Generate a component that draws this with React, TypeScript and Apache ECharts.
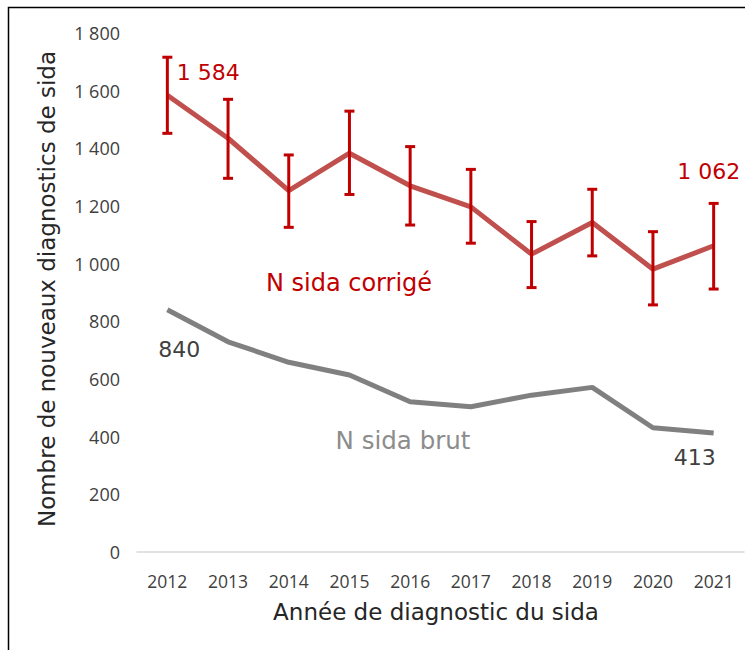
import { useEffect, useRef } from 'react';
import * as echarts from 'echarts';

const years = ['2012', '2013', '2014', '2015', '2016', '2017', '2018', '2019', '2020', '2021'];
const corrige = [1584, 1435, 1253, 1383, 1270, 1197, 1033, 1143, 981, 1062];
const corrigeLow = [1452, 1296, 1126, 1240, 1134, 1071, 917, 1027, 857, 912];
const corrigeHigh = [1716, 1570, 1377, 1529, 1406, 1327, 1146, 1258, 1111, 1209];
const brut = [840, 729, 658, 614, 521, 504, 544, 571, 431, 413];

const fmt = (v: number) => String(v).replace(/\B(?=(\d{3})+(?!\d))/g, ' ');

export default function App() {
  const ref = useRef<HTMLDivElement>(null);
  useEffect(() => {
    const chart = echarts.init(ref.current!, null, { renderer: 'svg' });
    const redLabel = { color: '#C00000', fontFamily: 'DejaVu Sans', fontSize: 22 };
    const grayLabel = { color: '#404040', fontFamily: 'DejaVu Sans', fontSize: 22 };
    const corrigeData = corrige.map((v, i) => {
      if (i === 0) return { value: v, label: { show: true, position: 'top', offset: [41, -7], formatter: (p: any) => fmt(p.value), ...redLabel } };
      if (i === corrige.length - 1) return { value: v, label: { show: true, position: 'top', offset: [-5, -58], formatter: (p: any) => fmt(p.value), ...redLabel } };
      return v;
    });
    const brutData = brut.map((v, i) => {
      if (i === 0) return { value: v, label: { show: true, position: 'bottom', offset: [12, 24], formatter: (p: any) => fmt(p.value), ...grayLabel } };
      if (i === brut.length - 1) return { value: v, label: { show: true, position: 'bottom', offset: [-19, 9], formatter: (p: any) => fmt(p.value), ...grayLabel } };
      return v;
    });
    chart.setOption({
      animation: false,
      backgroundColor: '#fff',
      grid: { left: 137, right: 1, top: 33, bottom: 98, containLabel: false },
      xAxis: {
        type: 'category',
        data: years,
        boundaryGap: true,
        axisLine: { show: true, lineStyle: { color: '#D9D9D9', width: 1.5 } },
        axisTick: { show: false },
        axisLabel: { color: '#404040', fontFamily: 'Open Sans', fontSize: 17.5, margin: 20 },
        splitLine: { show: false },
      },
      yAxis: {
        type: 'value',
        min: 0,
        max: 1800,
        interval: 200,
        axisLine: { show: false },
        axisTick: { show: false },
        splitLine: { show: false },
        axisLabel: { color: '#404040', fontFamily: 'Open Sans', fontSize: 18, margin: 17, formatter: (v: number) => fmt(v) },
      },
      series: [
        {
          type: 'line',
          data: brutData,
          symbol: 'circle',
          symbolSize: 0.1,
          showSymbol: true,
          lineStyle: { color: '#808080', width: 5 },
          itemStyle: { color: '#808080' },
          z: 2,
        },
        {
          type: 'line',
          data: corrigeData,
          symbol: 'circle',
          symbolSize: 0.1,
          showSymbol: true,
          lineStyle: { color: '#C0504D', width: 5 },
          itemStyle: { color: '#C0504D' },
          z: 3,
        },
        {
          type: 'custom',
          data: years.map((_, i) => [i, corrigeLow[i], corrigeHigh[i]]),
          encode: { x: 0, y: [1, 2] },
          z: 4,
          renderItem: (params: any, api: any) => {
            const lo = api.coord([api.value(0), api.value(1)]);
            const hi = api.coord([api.value(0), api.value(2)]);
            const w = 5;
            const style = { stroke: '#C00000', lineWidth: 3, fill: 'none' };
            return {
              type: 'group',
              children: [
                { type: 'line', shape: { x1: hi[0], y1: hi[1], x2: lo[0], y2: lo[1] }, style },
                { type: 'line', shape: { x1: hi[0] - w, y1: hi[1], x2: hi[0] + w, y2: hi[1] }, style },
                { type: 'line', shape: { x1: lo[0] - w, y1: lo[1], x2: lo[0] + w, y2: lo[1] }, style },
              ],
            };
          },
        },
      ],
      graphic: [
        {
          type: 'rect',
          shape: { x: 8.5, y: 7.5, width: 800, height: 700 },
          style: { fill: 'none', stroke: '#000', lineWidth: 1.5 },
          silent: true,
        },
        {
          type: 'text',
          x: 47,
          y: 289,
          rotation: Math.PI / 2,
          style: {
            text: 'Nombre de nouveaux diagnostics de sida',
            fontFamily: 'DejaVu Sans',
            fontSize: 23,
            fill: '#262626',
            align: 'center',
            verticalAlign: 'middle',
          },
        },
        {
          type: 'text',
          x: 436,
          y: 612,
          style: {
            text: 'Année de diagnostic du sida',
            fontFamily: 'DejaVu Sans',
            fontSize: 23,
            fill: '#262626',
            align: 'center',
            verticalAlign: 'middle',
          },
        },
        {
          type: 'text',
          x: 349,
          y: 283,
          style: {
            text: 'N sida corrigé',
            fontFamily: 'DejaVu Sans',
            fontSize: 24,
            fill: '#C00000',
            align: 'center',
            verticalAlign: 'middle',
          },
        },
        {
          type: 'text',
          x: 403,
          y: 440,
          style: {
            text: 'N sida brut',
            fontFamily: 'DejaVu Sans',
            fontSize: 24.5,
            fill: '#8C8C8C',
            align: 'center',
            verticalAlign: 'middle',
          },
        },
      ],
    });
    return () => chart.dispose();
  }, []);
  return (
    <div
      ref={ref}
      style={{ position: 'fixed', left: 0, top: 0, width: 745, height: 650, background: '#fff' }}
    />
  );
}
